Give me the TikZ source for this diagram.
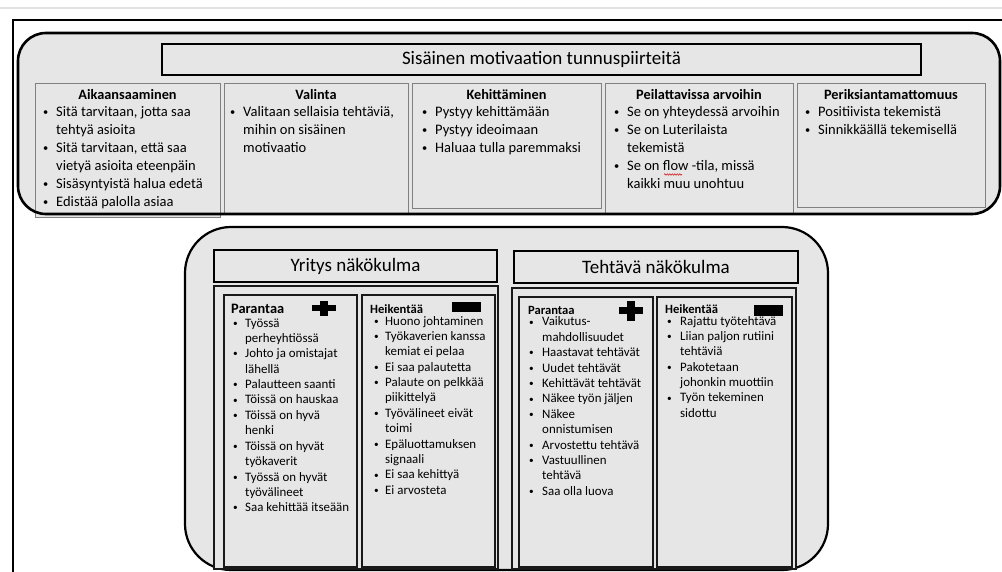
\documentclass[tikz,border=0pt]{standalone}
\usepackage{fontspec}
\setmainfont{Carlito}
\usetikzlibrary{decorations.pathmorphing}
\definecolor{bgfill}{RGB}{231,230,230}
\definecolor{colline}{RGB}{128,128,128}
\definecolor{pagegray}{RGB}{225,225,225}
\newlength\bw
\setlength\bw{13pt}
\newcommand\mybul{\makebox[\bw][l]{\raisebox{0.07em}{\scalebox{0.72}{•}}}}
\newcommand\myind{\hspace*{\bw}}
\begin{document}
\begin{tikzpicture}[x=1pt,y=-1pt,
  roundbox/.style={rounded corners=28pt},
  bigtitle/.style={draw=black,line width=2.8pt,fill=bgfill,inner sep=0pt,font=\fontsize{19}{22}\selectfont},
  subtitle/.style={draw=black,line width=1.8pt,fill=bgfill,inner sep=0pt,font=\fontsize{19}{22}\selectfont},
  colbox/.style={draw=colline,line width=0.9pt,fill=bgfill},
  subbox/.style={draw=black!90,line width=1.7pt,fill=bgfill},
  tophead/.style={inner sep=0pt,anchor=base,font=\bfseries\fontsize{14.3}{18}\selectfont},
  topbody/.style={inner sep=0pt,anchor=base west,font=\fontsize{14.5}{18}\selectfont},
  subhead/.style={inner sep=0pt,anchor=base west,font=\bfseries\fontsize{12.6}{15.4}\selectfont},
  subbody/.style={inner sep=0pt,anchor=base west,font=\fontsize{12.9}{15.4}\selectfont}
]
\useasboundingbox (0,0) rectangle (1002,572);
% page edge and frame
\draw[pagegray,line width=1.5pt] (0,8) -- (1002,8);
\draw[black,line width=1.6pt] (13,572) -- (13,20) -- (1002,20);

% ===== top group =====
\fill[bgfill,roundbox] (18,33) rectangle (1000,214);
\node[bigtitle,minimum width=759pt,minimum height=31pt] (title) at (541.5,59.5) {Sisäinen motivaation tunnuspiirteitä};

\draw[colbox] (35,83) rectangle (220,217);
\draw[colbox] (224,83) rectangle (408,213);
\draw[colbox] (412,83) rectangle (601,208);
\draw[colbox] (605,83) rectangle (793,213);
\draw[colbox] (797,83) rectangle (985,207);
\draw[black,line width=2.6pt,roundbox] (18,33) rectangle (1000,214);

\node[tophead] (h1) at (127.5,100) {Aikaansaaminen};
\node[tophead] (h2) at (316,100) {Valinta};
\node[tophead] (h3) at (506.5,100) {Kehittäminen};
\node[tophead] (h4) at (699,100) {Peilattavissa arvoihin};
\node[tophead] (h5) at (891,100) {Periksiantamattomuus};

\node[topbody] (t1) at (43,117) {\parbox[t]{200pt}{\mybul Sitä tarvitaan, jotta saa\\\myind tehtyä asioita\\\mybul Sitä tarvitaan, että saa\\\myind vietyä asioita eteenpäin\\\mybul Sisäsyntyistä halua edetä\\\mybul Edistää palolla asiaa}};
\node[topbody] (t2) at (230,117) {\parbox[t]{200pt}{\mybul Valitaan sellaisia tehtäviä,\\\myind mihin on sisäinen\\\myind motivaatio}};
\node[topbody] (t3) at (422,117) {\parbox[t]{200pt}{\mybul Pystyy kehittämään\\\mybul Pystyy ideoimaan\\\mybul Haluaa tulla paremmaksi}};
\node[topbody] (t4) at (614,117) {\parbox[t]{200pt}{\mybul Se on yhteydessä arvoihin\\\mybul Se on Luterilaista\\\myind tekemistä\\\mybul Se on flow -tila, missä\\\myind kaikki muu unohtuu}};
\node[topbody] (t5) at (805,117) {\parbox[t]{200pt}{\mybul Positiivista tekemistä\\\mybul Sinnikkäällä tekemisellä}};
\draw[red!80!black,line width=0.5pt,decorate,decoration={snake,amplitude=0.7pt,segment length=2.5pt}] (664,174.5) -- (682,174.5);

% ===== bottom group =====
\draw[black,line width=2.2pt,fill=bgfill,rounded corners=46pt] (185,227) rectangle (828,570);

\node[subtitle,minimum width=283pt,minimum height=32pt] (ytitle) at (355.5,266) {Yritys näkökulma};
\node[subtitle,minimum width=284pt,minimum height=32pt] (ttitle) at (656,267) {Tehtävä näkökulma};

\draw[subbox,line width=1.5pt] (214,286) rectangle (498,569);
\draw[subbox] (224,295) rectangle (357,567);
\draw[subbox] (362,295) rectangle (495,567);

\draw[subbox,line width=1.5pt] (512,288) rectangle (796,569);
\draw[subbox] (519,297) rectangle (653,567);
\draw[subbox] (657,297) rectangle (792,567);

% plus / minus marks
\fill[black] (312,305) rectangle (336,311);
\fill[black] (320,301) rectangle (328,316);
\fill[black] (452,302) rectangle (481,312);
\fill[black] (619,307.5) rectangle (643,314.5);
\fill[black] (627,301) rectangle (635,321);
\fill[black] (754,305) rectangle (783,316);

\node[subhead,font=\bfseries\fontsize{14.4}{16}\selectfont] (yph) at (231,313) {Parantaa};
\node[subhead] (yhh) at (370,313) {Heikentää};
\node[subhead] (tph) at (528,314) {Parantaa};
\node[subhead] (thh) at (665,313) {Heikentää};

\node[subbody] (ypb) at (233,327) {\parbox[t]{130pt}{\setlength\bw{12pt}\mybul Työssä\\\myind perheyhtiössä\\\mybul Johto ja omistajat\\\myind lähellä\\\mybul Palautteen saanti\\\mybul Töissä on hauskaa\\\mybul Töissä on hyvä\\\myind henki\\\mybul Töissä on hyvät\\\myind työkaverit\\\mybul Työssä on hyvät\\\myind työvälineet\\\mybul Saa kehittää itseään}};
\node[subbody] (yhb) at (374,325) {\parbox[t]{130pt}{\setlength\bw{11pt}\mybul Huono johtaminen\\\mybul Työkaverien kanssa\\\myind kemiat ei pelaa\\\mybul Ei saa palautetta\\\mybul Palaute on pelkkää\\\myind piikittelyä\\\mybul Työvälineet eivät\\\myind toimi\\\mybul Epäluottamuksen\\\myind signaali\\\mybul Ei saa kehittyä\\\mybul Ei arvosteta}};
\node[subbody] (tpb) at (529,326) {\parbox[t]{130pt}{\mybul Vaikutus-\\\myind mahdollisuudet\\\mybul Haastavat tehtävät\\\mybul Uudet tehtävät\\\mybul Kehittävät tehtävät\\\mybul Näkee työn jäljen\\\mybul Näkee\\\myind onnistumisen\\\mybul Arvostettu tehtävä\\\mybul Vastuullinen\\\myind tehtävä\\\mybul Saa olla luova}};
\node[subbody] (thb) at (667,325) {\parbox[t]{130pt}{\mybul Rajattu työtehtävä\\\mybul Liian paljon rutiini\\\myind tehtäviä\\\mybul Pakotetaan\\\myind johonkin muottiin\\\mybul Työn tekeminen\\\myind sidottu}};
\end{tikzpicture}
\end{document}
